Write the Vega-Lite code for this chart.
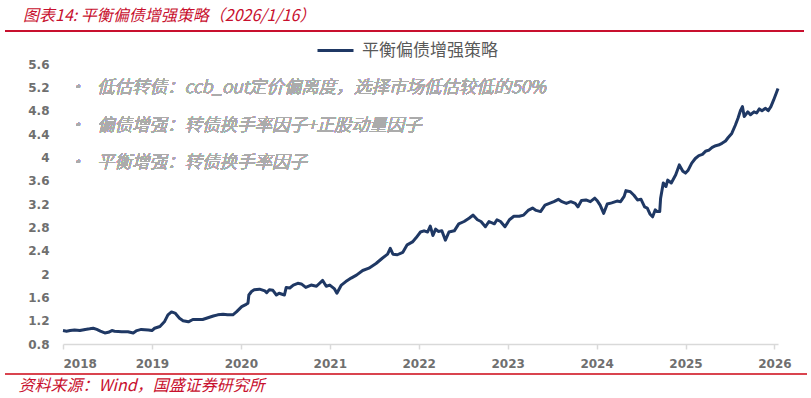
{
  "$schema": "https://vega.github.io/schema/vega-lite/v6.json",
  "width": 715,
  "height": 280,
  "autosize": "none",
  "padding": {"left": 63, "top": 64, "right": 33, "bottom": 54},
  "background": "white",
  "title": {
    "text": "图表14: 平衡偏债增强策略（2026/1/16）",
    "anchor": "start",
    "frame": "group",
    "font": "Noto Sans CJK SC",
    "fontSize": 16,
    "fontStyle": "italic",
    "fontWeight": "normal",
    "color": "#C8102E",
    "dx": -40,
    "offset": 6
  },
  "config": {"view": {"stroke": null}, "font": "Noto Sans CJK SC"},
  "data": {
    "values": [
      {"t": 2018.00, "v": 1.03}, {"t": 2018.04, "v": 1.02}, {"t": 2018.08, "v": 1.03}, {"t": 2018.13, "v": 1.04},
      {"t": 2018.19, "v": 1.03}, {"t": 2018.25, "v": 1.05}, {"t": 2018.30, "v": 1.06}, {"t": 2018.34, "v": 1.07},
      {"t": 2018.38, "v": 1.05}, {"t": 2018.42, "v": 1.02}, {"t": 2018.47, "v": 0.99}, {"t": 2018.51, "v": 1.00},
      {"t": 2018.55, "v": 1.03}, {"t": 2018.58, "v": 1.02}, {"t": 2018.66, "v": 1.01}, {"t": 2018.73, "v": 1.01},
      {"t": 2018.79, "v": 0.99}, {"t": 2018.83, "v": 1.03}, {"t": 2018.88, "v": 1.05}, {"t": 2018.96, "v": 1.04},
      {"t": 2019.00, "v": 1.03}, {"t": 2019.03, "v": 1.07}, {"t": 2019.09, "v": 1.10}, {"t": 2019.14, "v": 1.18},
      {"t": 2019.18, "v": 1.30}, {"t": 2019.22, "v": 1.35}, {"t": 2019.26, "v": 1.33}, {"t": 2019.31, "v": 1.24},
      {"t": 2019.35, "v": 1.20}, {"t": 2019.41, "v": 1.18}, {"t": 2019.46, "v": 1.22}, {"t": 2019.52, "v": 1.22},
      {"t": 2019.57, "v": 1.22}, {"t": 2019.63, "v": 1.25}, {"t": 2019.69, "v": 1.28}, {"t": 2019.74, "v": 1.30},
      {"t": 2019.80, "v": 1.31}, {"t": 2019.85, "v": 1.30}, {"t": 2019.91, "v": 1.30}, {"t": 2019.95, "v": 1.35},
      {"t": 2020.01, "v": 1.44}, {"t": 2020.06, "v": 1.48}, {"t": 2020.08, "v": 1.50}, {"t": 2020.09, "v": 1.64},
      {"t": 2020.12, "v": 1.70}, {"t": 2020.15, "v": 1.73}, {"t": 2020.21, "v": 1.74}, {"t": 2020.27, "v": 1.71},
      {"t": 2020.29, "v": 1.68}, {"t": 2020.32, "v": 1.73}, {"t": 2020.36, "v": 1.72}, {"t": 2020.40, "v": 1.64},
      {"t": 2020.43, "v": 1.67}, {"t": 2020.49, "v": 1.64}, {"t": 2020.51, "v": 1.77}, {"t": 2020.55, "v": 1.76},
      {"t": 2020.59, "v": 1.81}, {"t": 2020.64, "v": 1.84}, {"t": 2020.68, "v": 1.83}, {"t": 2020.73, "v": 1.77},
      {"t": 2020.79, "v": 1.81}, {"t": 2020.85, "v": 1.79}, {"t": 2020.92, "v": 1.89}, {"t": 2020.96, "v": 1.79},
      {"t": 2021.00, "v": 1.81}, {"t": 2021.05, "v": 1.75}, {"t": 2021.08, "v": 1.67}, {"t": 2021.13, "v": 1.81},
      {"t": 2021.18, "v": 1.87}, {"t": 2021.24, "v": 1.93}, {"t": 2021.30, "v": 1.98}, {"t": 2021.37, "v": 2.06},
      {"t": 2021.44, "v": 2.10}, {"t": 2021.52, "v": 2.18}, {"t": 2021.59, "v": 2.27}, {"t": 2021.65, "v": 2.34},
      {"t": 2021.68, "v": 2.44}, {"t": 2021.71, "v": 2.34}, {"t": 2021.76, "v": 2.33}, {"t": 2021.82, "v": 2.37},
      {"t": 2021.87, "v": 2.50}, {"t": 2021.93, "v": 2.55}, {"t": 2021.97, "v": 2.62}, {"t": 2022.02, "v": 2.72},
      {"t": 2022.06, "v": 2.74}, {"t": 2022.10, "v": 2.72}, {"t": 2022.13, "v": 2.82}, {"t": 2022.16, "v": 2.66},
      {"t": 2022.19, "v": 2.77}, {"t": 2022.22, "v": 2.73}, {"t": 2022.26, "v": 2.74}, {"t": 2022.30, "v": 2.58},
      {"t": 2022.34, "v": 2.72}, {"t": 2022.40, "v": 2.74}, {"t": 2022.45, "v": 2.86}, {"t": 2022.51, "v": 2.90},
      {"t": 2022.57, "v": 2.96}, {"t": 2022.61, "v": 3.01}, {"t": 2022.66, "v": 2.93}, {"t": 2022.70, "v": 2.90},
      {"t": 2022.75, "v": 2.81}, {"t": 2022.79, "v": 2.90}, {"t": 2022.85, "v": 2.86}, {"t": 2022.88, "v": 2.93},
      {"t": 2022.92, "v": 2.90}, {"t": 2022.97, "v": 2.81}, {"t": 2023.02, "v": 2.93}, {"t": 2023.07, "v": 2.99},
      {"t": 2023.13, "v": 2.99}, {"t": 2023.18, "v": 3.01}, {"t": 2023.23, "v": 3.09}, {"t": 2023.28, "v": 3.13},
      {"t": 2023.32, "v": 3.09}, {"t": 2023.37, "v": 3.07}, {"t": 2023.42, "v": 3.18}, {"t": 2023.47, "v": 3.21},
      {"t": 2023.52, "v": 3.24}, {"t": 2023.57, "v": 3.28}, {"t": 2023.61, "v": 3.24}, {"t": 2023.66, "v": 3.21},
      {"t": 2023.71, "v": 3.24}, {"t": 2023.76, "v": 3.21}, {"t": 2023.79, "v": 3.15}, {"t": 2023.83, "v": 3.26},
      {"t": 2023.88, "v": 3.27}, {"t": 2023.93, "v": 3.24}, {"t": 2023.98, "v": 3.30}, {"t": 2024.01, "v": 3.25},
      {"t": 2024.04, "v": 3.18}, {"t": 2024.08, "v": 3.04}, {"t": 2024.12, "v": 3.20}, {"t": 2024.17, "v": 3.22},
      {"t": 2024.23, "v": 3.25}, {"t": 2024.27, "v": 3.24}, {"t": 2024.31, "v": 3.33}, {"t": 2024.33, "v": 3.43},
      {"t": 2024.38, "v": 3.41}, {"t": 2024.42, "v": 3.35}, {"t": 2024.46, "v": 3.27}, {"t": 2024.50, "v": 3.28},
      {"t": 2024.54, "v": 3.15}, {"t": 2024.57, "v": 3.13}, {"t": 2024.60, "v": 3.03}, {"t": 2024.63, "v": 2.98},
      {"t": 2024.66, "v": 3.10}, {"t": 2024.68, "v": 3.07}, {"t": 2024.71, "v": 3.07}, {"t": 2024.72, "v": 3.30},
      {"t": 2024.75, "v": 3.56}, {"t": 2024.78, "v": 3.50}, {"t": 2024.80, "v": 3.61}, {"t": 2024.84, "v": 3.56},
      {"t": 2024.89, "v": 3.70}, {"t": 2024.93, "v": 3.87}, {"t": 2024.97, "v": 3.76}, {"t": 2025.00, "v": 3.73},
      {"t": 2025.03, "v": 3.78}, {"t": 2025.07, "v": 3.90}, {"t": 2025.11, "v": 3.98}, {"t": 2025.15, "v": 4.03},
      {"t": 2025.19, "v": 4.05}, {"t": 2025.23, "v": 4.11}, {"t": 2025.26, "v": 4.12}, {"t": 2025.30, "v": 4.17},
      {"t": 2025.34, "v": 4.20}, {"t": 2025.37, "v": 4.21}, {"t": 2025.41, "v": 4.24}, {"t": 2025.45, "v": 4.28},
      {"t": 2025.48, "v": 4.34}, {"t": 2025.52, "v": 4.41}, {"t": 2025.56, "v": 4.55}, {"t": 2025.59, "v": 4.67},
      {"t": 2025.62, "v": 4.81}, {"t": 2025.64, "v": 4.87}, {"t": 2025.66, "v": 4.70}, {"t": 2025.70, "v": 4.78},
      {"t": 2025.73, "v": 4.73}, {"t": 2025.77, "v": 4.78}, {"t": 2025.80, "v": 4.76}, {"t": 2025.83, "v": 4.83},
      {"t": 2025.86, "v": 4.80}, {"t": 2025.90, "v": 4.84}, {"t": 2025.93, "v": 4.80}, {"t": 2025.96, "v": 4.87},
      {"t": 2025.99, "v": 4.98}, {"t": 2026.02, "v": 5.10}, {"t": 2026.04, "v": 5.18}
    ]
  },
  "layer": [
    {
      "mark": {"type": "line", "strokeWidth": 3, "strokeJoin": "round"},
      "encoding": {
        "x": {
          "field": "t", "type": "quantitative",
          "scale": {"domain": [2018, 2026.04], "nice": false, "zero": false},
          "axis": {
            "values": [2018, 2019, 2020, 2021, 2022, 2023, 2024, 2025, 2026],
            "tickCount": 20,
            "format": "d",
            "grid": false,
            "labelFont": "DejaVu Sans", "labelFontWeight": "bold", "labelFontSize": 12, "labelColor": "#6F6F6F",
            "labelPadding": 9,
            "domainColor": "#D9D9D9", "domainWidth": 1.5,
            "tickColor": "#D9D9D9", "tickSize": 5, "tickWidth": 1.5,
            "title": "资料来源：Wind，国盛证券研究所",
            "titleFont": "Noto Sans CJK SC", "titleFontStyle": "italic", "titleFontWeight": "normal",
            "titleFontSize": 16, "titleColor": "#C8102E",
            "titleX": -45, "titleY": 41, "titleAlign": "left", "titleBaseline": "middle", "titleAnchor": "start"
          }
        },
        "y": {
          "field": "v", "type": "quantitative",
          "scale": {"domain": [0.8, 5.6], "nice": false, "zero": false},
          "axis": {
            "values": [0.8, 1.2, 1.6, 2, 2.4, 2.8, 3.2, 3.6, 4, 4.4, 4.8, 5.2, 5.6],
            "tickCount": 20,
            "format": "~g",
            "labelOverlap": false,
            "grid": false, "domain": false, "ticks": false,
            "labelFont": "DejaVu Sans", "labelFontWeight": "bold", "labelFontSize": 12, "labelColor": "#6F6F6F",
            "labelPadding": 14,
            "title": null
          }
        },
        "color": {
          "datum": "平衡偏债增强策略",
          "type": "nominal",
          "scale": {"range": ["#1F3864"]},
          "legend": {
            "orient": "none", "legendX": 253, "legendY": -33, "title": null, "padding": 0,
            "symbolType": "stroke", "symbolSize": 1296, "symbolStrokeWidth": 3,
            "labelFont": "Noto Sans CJK SC", "labelFontSize": 17, "labelColor": "#595959", "labelOffset": 7
          }
        }
      }
    },
    {
      "mark": {"type": "rule", "color": "#C8102E", "strokeWidth": 1.2, "clip": false},
      "encoding": {
        "x": {"datum": 2017.349, "type": "quantitative"},
        "x2": {"datum": 2026.325},
        "y": {"datum": 6.166, "type": "quantitative"}
      }
    },
    {
      "mark": {"type": "rule", "color": "#D9454F", "strokeWidth": 1.5, "clip": false},
      "encoding": {
        "x": {"datum": 2017.349, "type": "quantitative"},
        "x2": {"datum": 2026.36},
        "y": {"datum": 0.286, "type": "quantitative"}
      }
    },
    {
      "mark": {"type": "text", "align": "left", "baseline": "middle", "font": "Noto Sans CJK SC", "fontSize": 17.5, "fontWeight": 300, "fontStyle": "italic", "color": "#ABABAB"},
      "encoding": {
        "x": {"datum": 2018.056, "type": "quantitative"},
        "y": {"datum": 5.189, "type": "quantitative"},
        "text": {"value": "•\u00a0\u00a0\u00a0低估转债：ccb_out定价偏离度，选择市场低估较低的50%"}
      }
    },
    {
      "mark": {"type": "text", "align": "left", "baseline": "middle", "font": "Noto Sans CJK SC", "fontSize": 17.5, "fontWeight": 300, "fontStyle": "italic", "color": "#ABABAB"},
      "encoding": {
        "x": {"datum": 2018.056, "type": "quantitative"},
        "y": {"datum": 4.537, "type": "quantitative"},
        "text": {"value": "•\u00a0\u00a0\u00a0偏债增强：转债换手率因子+正股动量因子"}
      }
    },
    {
      "mark": {"type": "text", "align": "left", "baseline": "middle", "font": "Noto Sans CJK SC", "fontSize": 17.5, "fontWeight": 300, "fontStyle": "italic", "color": "#ABABAB"},
      "encoding": {
        "x": {"datum": 2018.056, "type": "quantitative"},
        "y": {"datum": 3.903, "type": "quantitative"},
        "text": {"value": "•\u00a0\u00a0\u00a0平衡增强：转债换手率因子"}
      }
    }
  ]
}
